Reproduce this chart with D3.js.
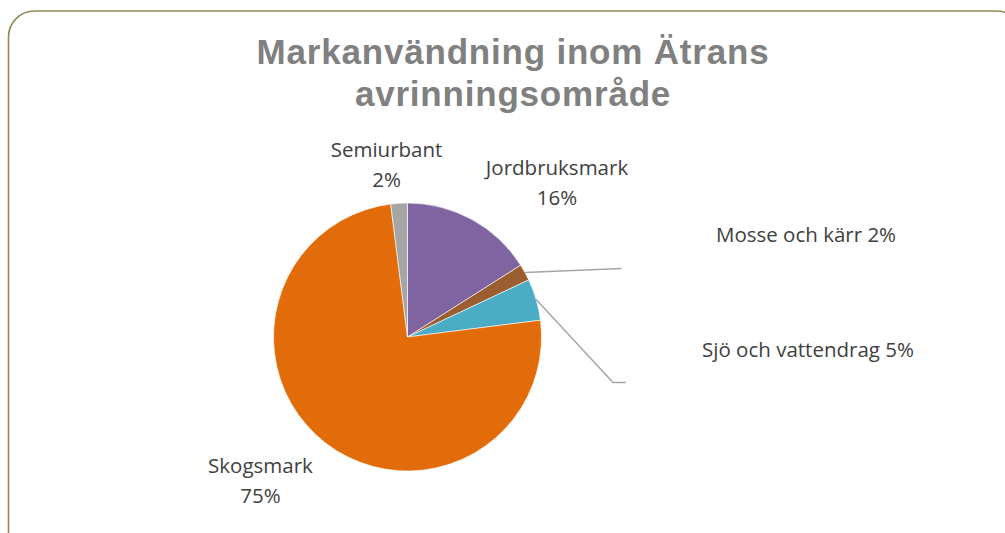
<!DOCTYPE html>
<html>
<head>
<meta charset="utf-8">
<script src="https://cdn.jsdelivr.net/npm/d3@7"></script>
<style>
  body { margin: 0; background: #fff; }
  svg { display: block; }
</style>
</head>
<body>
<svg></svg>
<script>
// data
const categories = ["Jordbruksmark", "Mosse och kärr", "Sjö och vattendrag", "Skogsmark", "Semiurbant"];
const values = [16, 2, 5, 75, 2];
const colors = ["#8064A2", "#9A5E30", "#4BACC6", "#E36C0A", "#A5A5A5"];
const titleLines = ["Markanvändning inom Ätrans", "avrinningsområde"];

const width = 1005;
const height = 533;
const cx = 407.5, cy = 337, radius = 134;

const svg = d3.select("svg").attr("width", width).attr("height", height);

// frame
svg.append("rect")
    .attr("x", 8.5).attr("y", 11)
    .attr("width", 1014).attr("height", 600)
    .attr("rx", 26).attr("ry", 26)
    .attr("fill", "none")
    .attr("stroke", "#938953")
    .attr("stroke-width", 1.6);

// title
svg.append("g").selectAll("text")
    .data(titleLines)
    .join("text")
    .attr("x", 513)
    .attr("y", (d, i) => 64 + i * 42)
    .attr("text-anchor", "middle")
    .attr("font-family", "'Liberation Sans', Arial, sans-serif")
    .attr("font-weight", "bold")
    .attr("font-size", 35)
    .attr("letter-spacing", 0.8)
    .attr("fill", "#808080")
    .text(d => d);

const data = categories.map((c, i) => ({ name: c, value: values[i], color: colors[i] }));

const pie = d3.pie().sort(null).value(d => d.value);
const arcs = pie(data);
const arc = d3.arc().innerRadius(0).outerRadius(radius);
const edge = d3.arc().innerRadius(radius).outerRadius(radius);

const g = svg.append("g").attr("transform", `translate(${cx},${cy})`);

g.selectAll("path")
    .data(arcs)
    .join("path")
    .attr("d", arc)
    .attr("fill", d => d.data.color)
    .attr("stroke", "#fff")
    .attr("stroke-width", 0.6);

// label layout (position of each label block, relative to page)
const labelPos = {
    "Jordbruksmark":      { x: 557, y: 175, two: true },
    "Mosse och kärr":     { x: 806, y: 242, two: false, lead: [[621.5, 268.5]] },
    "Sjö och vattendrag": { x: 808, y: 357, two: false, lead: [[613, 382.5], [626, 382.5]] },
    "Skogsmark":          { x: 260.5, y: 473, two: true },
    "Semiurbant":         { x: 386.5, y: 157, two: true }
};

// leader lines
arcs.forEach(a => {
    const p = labelPos[a.data.name];
    if (!p.lead) return;
    const mid = (a.startAngle + a.endAngle) / 2;
    const start = [cx + radius * Math.sin(mid), cy - radius * Math.cos(mid)];
    svg.append("path")
        .attr("d", d3.line()([start, ...p.lead]))
        .attr("fill", "none")
        .attr("stroke", "#A6A6A6")
        .attr("stroke-width", 1.5);
});

// labels
const labels = svg.append("g")
    .attr("font-family", "'Open Sans', sans-serif")
    .attr("font-size", 20.5)
    .attr("fill", "#404040")
    .attr("text-anchor", "middle");

arcs.forEach(a => {
    const p = labelPos[a.data.name];
    const pct = a.data.value + "%";
    if (p.two) {
        labels.append("text").attr("x", p.x).attr("y", p.y).text(a.data.name);
        labels.append("text").attr("x", p.x).attr("y", p.y + 29.5).text(pct);
    } else {
        labels.append("text").attr("x", p.x).attr("y", p.y).text(a.data.name + " " + pct);
    }
});
</script>
</body>
</html>
